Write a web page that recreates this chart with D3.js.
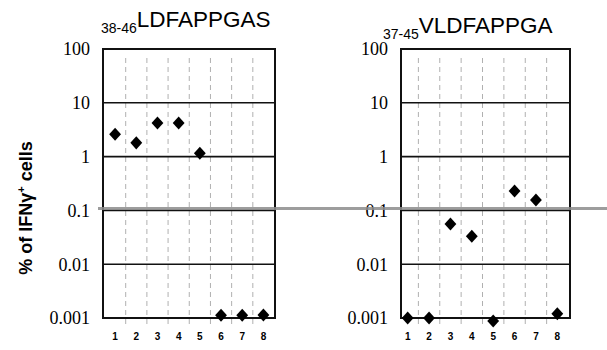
<!DOCTYPE html>
<html>
<head>
<meta charset="utf-8">
<script src="https://cdn.jsdelivr.net/npm/d3@7"></script>
<style>
  body { margin: 0; background: #fff; }
  svg { display: block; }
</style>
</head>
<body>
<div id="chart"></div>
<script>
// Data
var categories = ["1", "2", "3", "4", "5", "6", "7", "8"];
var yTicks = [0.001, 0.01, 0.1, 1, 10, 100];
var yTickLabels = ["0.001", "0.01", "0.1", "1", "10", "100"];

var peptideA = { sub: "38-46", name: "LDFAPPGAS" };
var peptideB = { sub: "37-45", name: "VLDFAPPGA" };

var valuesA = [2.6, 1.8, 4.2, 4.2, 1.15, 0.00112, 0.00112, 0.00114];
var valuesB = [0.001, 0.001, 0.056, 0.033, 0.00088, 0.23, 0.156, 0.0012];

var w = 607;
var h = 350;

var svg = d3.select("#chart")
    .append("svg")
    .attr("width", w)
    .attr("height", h);

var y = d3.scaleLog()
    .domain([0.001, 100])
    .range([318, 49]);

// axis title
svg.append("text")
    .attr("transform", "translate(32,208) rotate(-90)")
    .attr("text-anchor", "middle")
    .style("font-family", "Liberation Sans, Arial, sans-serif")
    .style("font-weight", "bold")
    .style("font-size", "18px")
    .html('% of IFNγ<tspan dy="-7" font-size="11px">+</tspan><tspan dy="7"> cells</tspan>');

function drawPanel(boxLeft, boxRight, bandRange, values, pep, titleX, titleY) {
    var g = svg.append("g");

    var x = d3.scaleBand()
        .domain(categories)
        .range(bandRange)
        .padding(0);

    // dashed separators between categories
    g.selectAll("line.sep")
        .data(categories.slice(1))
        .enter()
        .append("line")
        .attr("class", "sep")
        .attr("x1", function (d) { return x(d); })
        .attr("x2", function (d) { return x(d); })
        .attr("y1", 58)
        .attr("y2", 327)
        .style("stroke", "#b0b0b0")
        .style("stroke-width", 1)
        .style("stroke-dasharray", "5,4");

    // horizontal gridlines
    g.selectAll("line.grid")
        .data(yTicks)
        .enter()
        .append("line")
        .attr("class", "grid")
        .attr("x1", boxLeft)
        .attr("x2", boxRight)
        .attr("y1", function (d) { return y(d); })
        .attr("y2", function (d) { return y(d); })
        .style("stroke", "#111")
        .style("stroke-width", 1.6);

    // box
    g.append("rect")
        .attr("x", boxLeft)
        .attr("y", y(100))
        .attr("width", boxRight - boxLeft)
        .attr("height", y(0.001) - y(100))
        .style("fill", "none")
        .style("stroke", "#111")
        .style("stroke-width", 2);

    // y tick labels
    g.selectAll("text.ytick")
        .data(yTicks)
        .enter()
        .append("text")
        .attr("class", "ytick")
        .attr("x", boxLeft - 13)
        .attr("y", function (d) { return y(d); })
        .attr("dy", "0.35em")
        .attr("text-anchor", "end")
        .style("font-family", "Liberation Serif, Times New Roman, serif")
        .style("font-size", "18px")
        .text(function (d, i) { return yTickLabels[i]; });

    // category labels
    g.selectAll("text.xtick")
        .data(categories)
        .enter()
        .append("text")
        .attr("class", "xtick")
        .attr("x", function (d) { return x(d) + x.bandwidth() / 2; })
        .attr("y", 340)
        .attr("text-anchor", "middle")
        .style("font-family", "Liberation Sans, Arial, sans-serif")
        .style("font-weight", "bold")
        .style("font-size", "10px")
        .text(function (d) { return d; });

    // diamonds
    g.selectAll("path.pt")
        .data(values)
        .enter()
        .append("path")
        .attr("class", "pt")
        .attr("d", d3.symbol().type(d3.symbolSquare).size(70))
        .attr("transform", function (d, i) {
            return "translate(" + (x(categories[i]) + x.bandwidth() / 2) + "," + y(d) + ") scale(1,1.1) rotate(45)";
        })
        .style("fill", "#000");

    // title
    var t = svg.append("text")
        .attr("x", titleX)
        .attr("y", titleY)
        .style("font-family", "Liberation Sans, Arial, sans-serif")
        .style("font-size", "22.5px");
    t.append("tspan")
        .attr("dy", 6)
        .style("font-size", "14px")
        .text(pep.sub);
    t.append("tspan")
        .attr("dy", -6)
        .text(pep.name);
}

drawPanel(103, 275, [104.5, 274], valuesA, peptideA, 101, 27);
drawPanel(401, 570, [397, 568], valuesB, peptideB, 383, 33);

// grey scan streak across the 0.1 line
svg.append("line")
    .attr("x1", 98)
    .attr("x2", w)
    .attr("y1", y(0.1) - 2)
    .attr("y2", y(0.1) - 2)
    .style("stroke", "#8c8c8c")
    .style("stroke-width", 3)
    .style("opacity", 0.85);
</script>
</body>
</html>
